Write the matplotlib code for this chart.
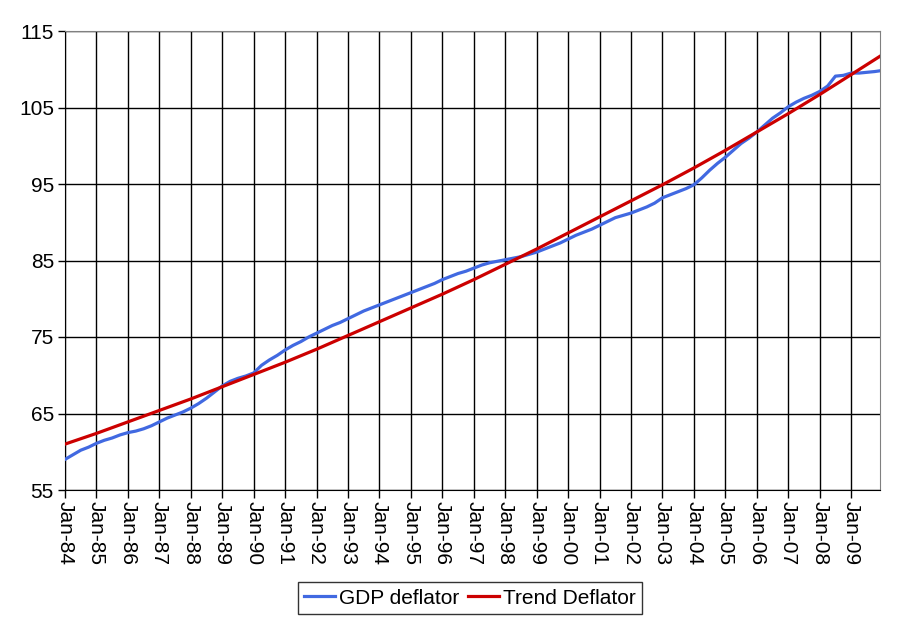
import matplotlib
matplotlib.use("Agg")
import matplotlib.pyplot as plt

plt.rcParams['font.family'] = ['Liberation Sans', 'DejaVu Sans']

# GDP deflator, quarterly (Jan, Apr, Jul, Oct) 1984-2009, plus Dec-2009
gdp_years = list(range(1984, 2010))
gdp_quarters = [
    [59.0, 59.6, 60.2, 60.6],
    [61.1, 61.5, 61.8, 62.2],
    [62.5, 62.7, 63.0, 63.4],
    [63.9, 64.4, 64.8, 65.2],
    [65.7, 66.3, 67.0, 67.8],
    [68.6, 69.2, 69.6, 69.9],
    [70.3, 71.3, 72.0, 72.6],
    [73.3, 73.9, 74.4, 75.0],
    [75.5, 76.0, 76.5, 76.9],
    [77.4, 77.9, 78.4, 78.8],
    [79.2, 79.6, 80.0, 80.4],
    [80.8, 81.2, 81.6, 82.0],
    [82.5, 82.9, 83.3, 83.6],
    [84.0, 84.4, 84.7, 84.9],
    [85.1, 85.3, 85.5, 85.8],
    [86.1, 86.5, 86.9, 87.3],
    [87.8, 88.3, 88.7, 89.1],
    [89.6, 90.1, 90.6, 90.9],
    [91.2, 91.6, 92.0, 92.5],
    [93.2, 93.6, 94.0, 94.4],
    [94.9, 95.8, 96.8, 97.7],
    [98.5, 99.4, 100.3, 101.0],
    [101.8, 102.7, 103.6, 104.3],
    [105.1, 105.7, 106.2, 106.6],
    [107.1, 107.8, 109.1, 109.2],
    [109.5, 109.5, 109.6, 109.7],
]
gdp_final_date = 2009 + 11 / 12
gdp_final_value = 109.8

# Trend deflator, January of each year 1984-2009, plus Dec-2009
trend_years = list(range(1984, 2010))
trend_values = [61.0, 62.4, 63.9, 65.4, 66.9, 68.5, 70.1, 71.7, 73.4, 75.2,
                77.0, 78.8, 80.6, 82.5, 84.5, 86.5, 88.6, 90.7, 92.8, 94.9,
                97.1, 99.4, 101.8, 104.2, 106.7, 109.3]
trend_final_value = 111.7

tick_labels = ["Jan-%02d" % (y % 100) for y in range(1984, 2010)]

# build x/y
gx, gy = [], []
for yr, qs in zip(gdp_years, gdp_quarters):
    for i, v in enumerate(qs):
        gx.append(yr + i * 0.25)
        gy.append(v)
gx.append(gdp_final_date)
gy.append(gdp_final_value)

tx = list(trend_years) + [gdp_final_date]
ty = list(trend_values) + [trend_final_value]

FS = 15

fig = plt.figure(figsize=(9.11, 6.23), dpi=100)
ax = fig.add_axes([65 / 911, 1 - 490 / 623, (880 - 65) / 911, (490 - 31) / 623])

ax.plot(gx, gy, color='#4169E1', lw=2.3, label='GDP deflator', zorder=3)
ax.plot(tx, ty, color='#CC0000', lw=2.3, label='Trend Deflator', zorder=4)

ax.set_xlim(1984, gdp_final_date)
ax.set_ylim(55, 115)
ax.set_yticks(range(55, 116, 10))
ax.set_xticks(list(range(1984, 2010)))
ax.set_xticklabels(tick_labels, rotation=-90, fontsize=FS)
ax.tick_params(axis='y', labelsize=FS, length=5, width=1, color='black', pad=3)
ax.tick_params(axis='x', length=6, width=1, color='black', pad=2)

ax.grid(True, color='black', lw=1)
ax.set_axisbelow(True)
for s in ['top', 'right']:
    ax.spines[s].set_color('#808080')
for s in ['left', 'bottom']:
    ax.spines[s].set_color('black')

leg = fig.legend(loc='center', bbox_to_anchor=(470 / 911, 1 - 598 / 623), ncol=2,
                 fontsize=FS, frameon=True, fancybox=False, shadow=False,
                 handlelength=1.5, handletextpad=0.2, columnspacing=0.4,
                 borderpad=0.3, borderaxespad=0)
leg.get_frame().set_edgecolor('black')
leg.get_frame().set_linewidth(1)

fig.savefig('out.png', dpi=100)
